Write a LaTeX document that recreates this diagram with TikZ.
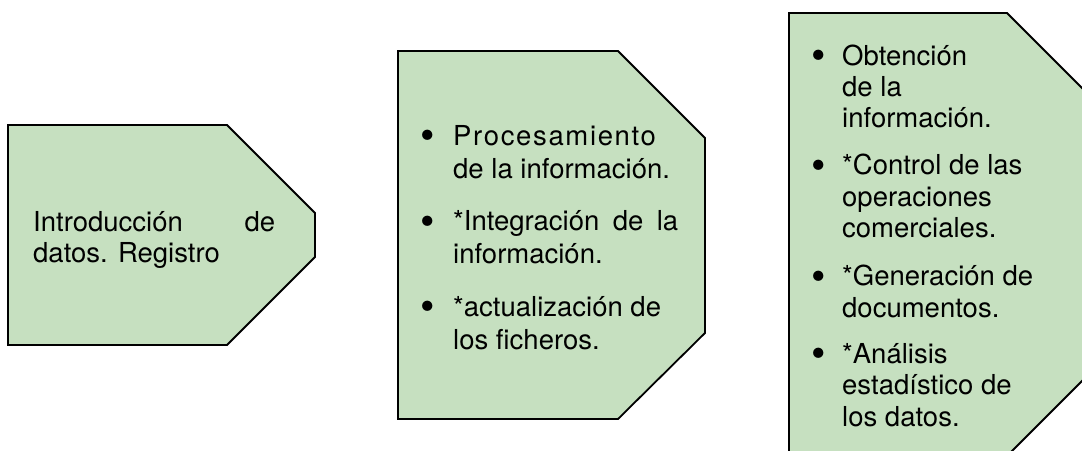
\documentclass[tikz,border=0pt]{standalone}
\usepackage{fontspec}
\setmainfont{TeX Gyre Heros}
\usepackage{xcolor}
\usepackage{tikz}
\definecolor{sage}{RGB}{198,224,192}

\tikzset{
  stage/.style={draw=black, fill=sage, line width=1.8pt, line join=miter},
  stagetext/.style={anchor=base west, inner sep=0pt, font=\fontsize{27.5}{33}\selectfont},
}
\newcommand{\bul}{\makebox[10pt]{\raisebox{-4.5pt}{\scalebox{1.5}{\textbullet}}}}

\begin{document}
\begin{tikzpicture}[x=1pt, y=-1pt]
        \clip (0,0) rectangle (1082,450);

        % the three stages
        \draw[stage] (8,125) -- (227,125) -- (315,213) -- (315,257) -- (227,345) -- (8,345) -- cycle;
        \draw[stage] (398,51) -- (618,51) -- (705,138) -- (705,333) -- (618,419) -- (398,419) -- cycle;
        \draw[stage] (789,13) -- (1007,13) -- (1094,100) -- (1094,369) -- (1007,456) -- (789,456) -- cycle;

        \node[stagetext, font=\fontsize{27.5}{31}\selectfont] at (33,231) (entrada) {\begin{tabular}[t]{@{}l@{}}
            \makebox[242pt][s]{Introducción de}\\
            datos. Registro
        \end{tabular}};

        \node[stagetext] at (423,145) (proceso) {\begin{tabular}[t]{@{}l@{\hspace{20pt}}l@{}}
            \bul & {\addfontfeature{LetterSpace=6}Procesamiento}\\
                 & de la información.\\[19.5pt]
            \bul & \makebox[225pt][s]{*Integración de la}\\
                 & información.\\[19.5pt]
            \bul & *actualización de\\
                 & los ficheros.
        \end{tabular}};

        \node[stagetext, font=\fontsize{27.5}{31.3}\selectfont] at (814,65) (salida) {\begin{tabular}[t]{@{}l@{\hspace{18pt}}l@{}}
            \bul & Obtención\\
                 & de la\\
                 & información.\\[16pt]
            \bul & *Control de las\\
                 & operaciones\\
                 & comerciales.\\[17pt]
            \bul & *Generación de\\
                 & documentos.\\[15pt]
            \bul & *Análisis\\
                 & estadístico de\\
                 & los datos.
        \end{tabular}};
\end{tikzpicture}
\end{document}
